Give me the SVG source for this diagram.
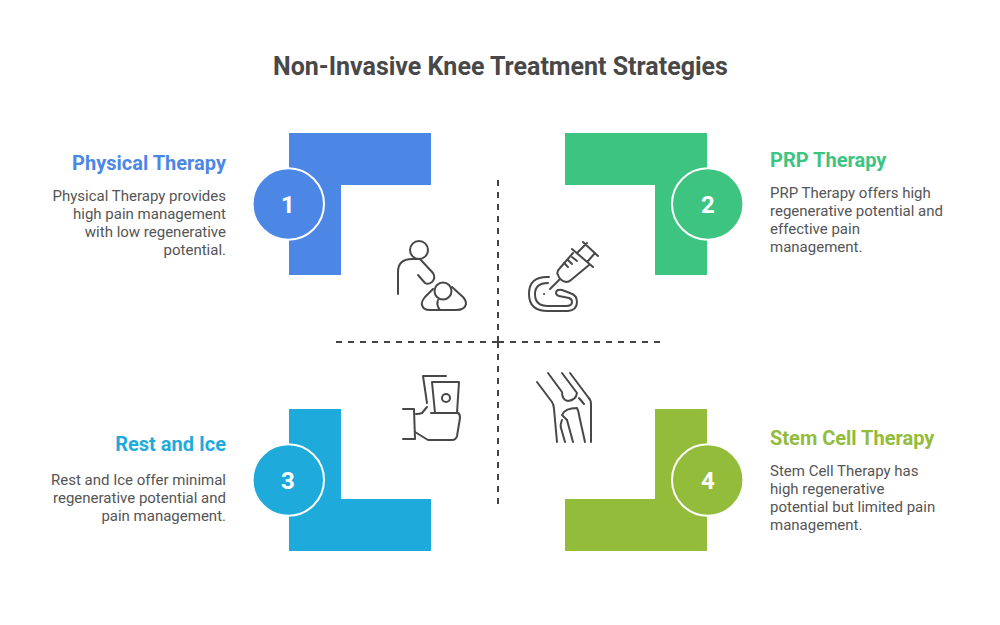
<svg xmlns="http://www.w3.org/2000/svg" width="1000" height="625" viewBox="0 0 1000 625">
<style>
text{font-family:Roboto,"Liberation Sans",sans-serif}
.title{font-size:25px;font-weight:700;fill:#484848;text-anchor:middle}
.h{font-size:20px;font-weight:700}
.b{font-size:15px;fill:#555}
.e{text-anchor:end}
.n{font-size:24px;font-weight:700;fill:#fff;text-anchor:middle}
.c{stroke:#fff;stroke-width:2}
.d{fill:none;stroke:#434343;stroke-width:2;stroke-dasharray:6 6}
.i{fill:none;stroke:#484848;stroke-width:2;stroke-linecap:round;stroke-linejoin:round}
</style>
<rect width="1000" height="625" fill="#fff"/>
<text class="title" x="500.500" y="75">Non-Invasive Knee Treatment Strategies</text>
<g id="connectors">
<path class="d" d="M498 180V342"/>
<path class="d" d="M498 504V342"/>
<path class="d" d="M336 342H498"/>
<path class="d" d="M660 342H498"/>
</g>
<g id="node1">
<path fill="#4c87e6" d="M289 133H431V185H341V275H289Z"/>
<circle class="c" fill="#4c87e6" cx="288.300" cy="204" r="35.700"/>
<text class="n" x="288" y="213">1</text>
<text class="h e" x="226" y="170" fill="#4c87e6">Physical Therapy</text>
<text class="b e" y="201"><tspan x="226">Physical Therapy provides</tspan><tspan x="226" dy="18">high pain management</tspan><tspan x="226" dy="18">with low regenerative</tspan><tspan x="226" dy="18">potential.</tspan></text>
</g>
<g id="node2">
<path fill="#3dc481" d="M565 133H707V275H655V185H565Z"/>
<circle class="c" fill="#3dc481" cx="707.700" cy="204" r="35.700"/>
<text class="n" x="708" y="213">2</text>
<text class="h" x="770" y="167" fill="#3dc481">PRP Therapy</text>
<text class="b" y="198"><tspan x="770">PRP Therapy offers high</tspan><tspan x="770" dy="18">regenerative potential and</tspan><tspan x="770" dy="18">effective pain</tspan><tspan x="770" dy="18">management.</tspan></text>
</g>
<g id="node3">
<path fill="#1eabdb" d="M289 409H341V499H431V551H289Z"/>
<circle class="c" fill="#1eabdb" cx="288.300" cy="480" r="35.700"/>
<text class="n" x="288" y="489">3</text>
<text class="h e" x="226" y="451" fill="#1eabdb">Rest and Ice</text>
<text class="b e" y="485"><tspan x="226">Rest and Ice offer minimal</tspan><tspan x="226" dy="18">regenerative potential and</tspan><tspan x="226" dy="18">pain management.</tspan></text>
</g>
<g id="node4">
<path fill="#93bc3b" d="M655 409H707V551H565V499H655Z"/>
<circle class="c" fill="#93bc3b" cx="707.700" cy="480" r="35.700"/>
<text class="n" x="708" y="489">4</text>
<text class="h" x="770" y="445" fill="#93bc3b">Stem Cell Therapy</text>
<text class="b" y="476"><tspan x="770">Stem Cell Therapy has</tspan><tspan x="770" dy="18">high regenerative</tspan><tspan x="770" dy="18">potential but limited pain</tspan><tspan x="770" dy="18">management.</tspan></text>
</g>
<g id="icon1" class="i">
<circle cx="419" cy="250" r="9"/>
<path d="M398 294V272Q398 259 412 259H420L433 273Q436 278 432 282Q428 285 425 283L418 275"/>
<path d="M433 289L425 297Q421 302 422 305Q423 310 430 310H456Q465 310 466 304Q466 300 463 297L452 287"/>
<circle cx="443" cy="291" r="8.500"/>
<path d="M438 300Q436 305 440 310"/>
</g>
<g id="icon2" class="i">
<path d="M550 289L560 279"/>
<path d="M560 268Q556 272 558 275Q560 281 566 282Q569 282 571 280L589 265M560 268L573 253"/>
<path d="M572 249L593 267M583 242L598 256M578 252L587 243M588 261L595 253"/>
<path d="M564 263L568 267M568 260L572 264M572 257L577 261"/>
<path d="M549 277Q529 276 529 294Q529 311 548 311H568Q577 310 577 302Q577 295 570 293L562 290Q556 289 556 293Q556 295 559 296L569 298Q572 299 572 302Q572 306 566 306H548Q535 306 535 294Q535 283 548 283"/>
<path d="M544 294H544.100"/>
</g>
<g id="icon3" class="i">
<path d="M446 376H423L427 403"/>
<path d="M435 413L432 382H459L457 413"/>
<circle cx="446" cy="398" r="4"/>
<path d="M431 413H458Q460 414 460 418L457 436Q456 440 452 440H428L415 432"/>
<path d="M403 409H414L415 439H403"/>
<path d="M416 414Q420 414 422 413L427 407"/>
</g>
<g id="icon4" class="i">
<path d="M537 382L552 402Q554 405 554 409L557 442"/>
<path d="M548 373L562 392Q562 400 568 401Q576 400 577 393L562 373"/>
<path d="M570 373L588 397Q591 400 591 404V442"/>
<path d="M579 398L584 404"/>
<path d="M567 420L562 415Q565 408 577 408Q579 412 579 415L585 442"/>
<path d="M567 420L573 442"/>
<path d="M562 420Q560 425 561 428L565 442"/>
</g>
</svg>
